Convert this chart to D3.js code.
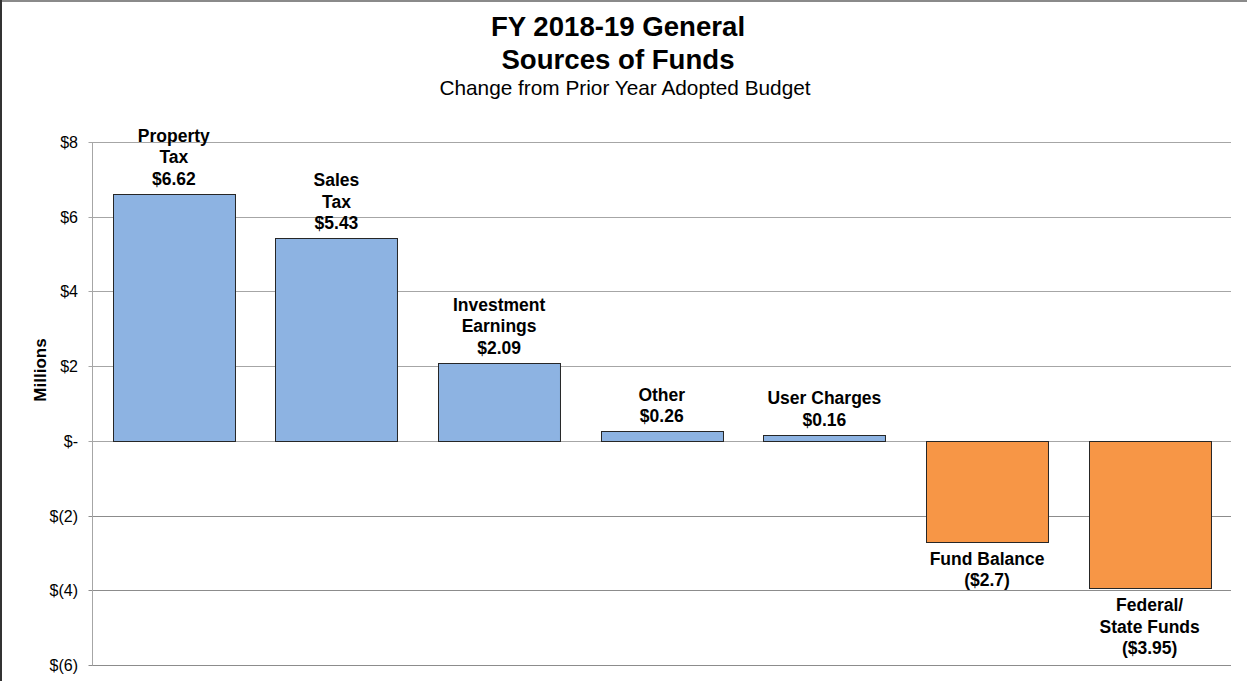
<!DOCTYPE html>
<html>
<head>
<meta charset="utf-8">
<script src="https://cdn.jsdelivr.net/npm/d3@7"></script>
<style>
  body { margin: 0; background: #fff; }
  text { font-family: Arial, "Liberation Sans", sans-serif; }
</style>
</head>
<body>
<script>
var width = 1247,
    height = 681;

// data
var categories = [
    ["Property", "Tax"],
    ["Sales", "Tax"],
    ["Investment", "Earnings"],
    ["Other"],
    ["User Charges"],
    ["Fund Balance"],
    ["Federal/", "State Funds"]
];
var values = [6.62, 5.43, 2.09, 0.26, 0.16, -2.7, -3.95];
var valueLabels = ["$6.62", "$5.43", "$2.09", "$0.26", "$0.16", "($2.7)", "($3.95)"];
var tickValues = [8, 6, 4, 2, 0, -2, -4, -6];
var tickLabels = ["$8", "$6", "$4", "$2", "$-", "$(2)", "$(4)", "$(6)"];

var svg = d3.select("body").append("svg")
    .attr("width", width)
    .attr("height", height)

/* frame */
svg.append("line").attr("x1", 0).attr("x2", width).attr("y1", 1).attr("y2", 1)
    .attr("stroke", "#8a8a8a").attr("stroke-width", 2)
svg.append("line").attr("x1", 1).attr("x2", 1).attr("y1", 0).attr("y2", height)
    .attr("stroke", "#333").attr("stroke-width", 2)

/* titles */
svg.append("text").attr("x", 618).attr("y", 36)
    .attr("text-anchor", "middle").attr("font-size", 27.6).attr("font-weight", "bold")
    .text("FY 2018-19 General")
svg.append("text").attr("x", 618).attr("y", 69)
    .attr("text-anchor", "middle").attr("font-size", 27.6).attr("font-weight", "bold")
    .text("Sources of Funds")
svg.append("text").attr("x", 625).attr("y", 95)
    .attr("text-anchor", "middle").attr("font-size", 20.8)
    .text("Change from Prior Year Adopted Budget")

var x0 = 92.5, x1 = 1231, yTop = 142, yBot = 665;

var x = d3.scaleBand()
    .domain(d3.range(values.length))
    .range([x0, x1])
    .paddingInner(0.25)
    .paddingOuter(0.125)

var y = d3.scaleLinear()
    .domain([-6, 8])
    .range([yBot, yTop])

/* gridlines */
svg.append("g").selectAll("line")
    .data(tickValues)
    .enter().append("line")
    .attr("x1", x0 - 4)
    .attr("x2", x1)
    .attr("y1", function (d) { return Math.round(y(d)) + 0.5 })
    .attr("y2", function (d) { return Math.round(y(d)) + 0.5 })
    .attr("stroke", function (d) { return d >= 0 ? "#a6a6a6" : "#8c8c8c" })
    .attr("stroke-width", 1)

/* y axis line */
svg.append("line")
    .attr("x1", x0).attr("x2", x0)
    .attr("y1", yTop).attr("y2", yBot + 0.5)
    .attr("stroke", "#a6a6a6")

/* tick labels */
svg.append("g").selectAll("text")
    .data(tickValues)
    .enter().append("text")
    .attr("x", 78)
    .attr("y", function (d) { return y(d) + 6 })
    .attr("text-anchor", "end")
    .attr("font-size", 16)
    .text(function (d, i) { return tickLabels[i] })

svg.append("text")
    .attr("transform", "translate(46,370) rotate(-90)")
    .attr("text-anchor", "middle")
    .attr("font-size", 17)
    .attr("font-weight", "bold")
    .text("Millions")

/* bars */
svg.append("g").selectAll("rect")
    .data(values)
    .enter().append("rect")
    .attr("x", function (d, i) { return Math.round(x(i)) + 0.5 })
    .attr("width", x.bandwidth())
    .attr("y", function (d) { return Math.round(y(Math.max(0, d))) + 0.5 })
    .attr("height", function (d) { return Math.abs(Math.round(y(d)) - Math.round(y(0))) })
    .attr("fill", function (d) { return d >= 0 ? "#8db3e2" : "#f79646" })
    .attr("stroke", "#262626")
    .attr("stroke-width", 1)

/* data labels */
var lh = 21.5;
var labels = svg.append("g").selectAll("text")
    .data(values)
    .enter().append("text")
    .attr("text-anchor", "middle")
    .attr("font-size", 17.5)
    .attr("font-weight", "bold")
    .attr("x", function (d, i) { return x(i) + x.bandwidth() / 2 })
    .attr("y", function (d, i) {
        var lines = categories[i].length + 1;
        if (d >= 0) return y(d) - 9 - (lines - 1) * lh;
        return y(d) + 23;
    })

labels.each(function (d, i) {
    var el = d3.select(this);
    var lines = categories[i].concat([valueLabels[i]]);
    var cx = el.attr("x");
    lines.forEach(function (t, j) {
        el.append("tspan")
            .attr("x", cx)
            .attr("dy", j === 0 ? 0 : lh)
            .text(t)
    })
})
</script>
</body>
</html>
